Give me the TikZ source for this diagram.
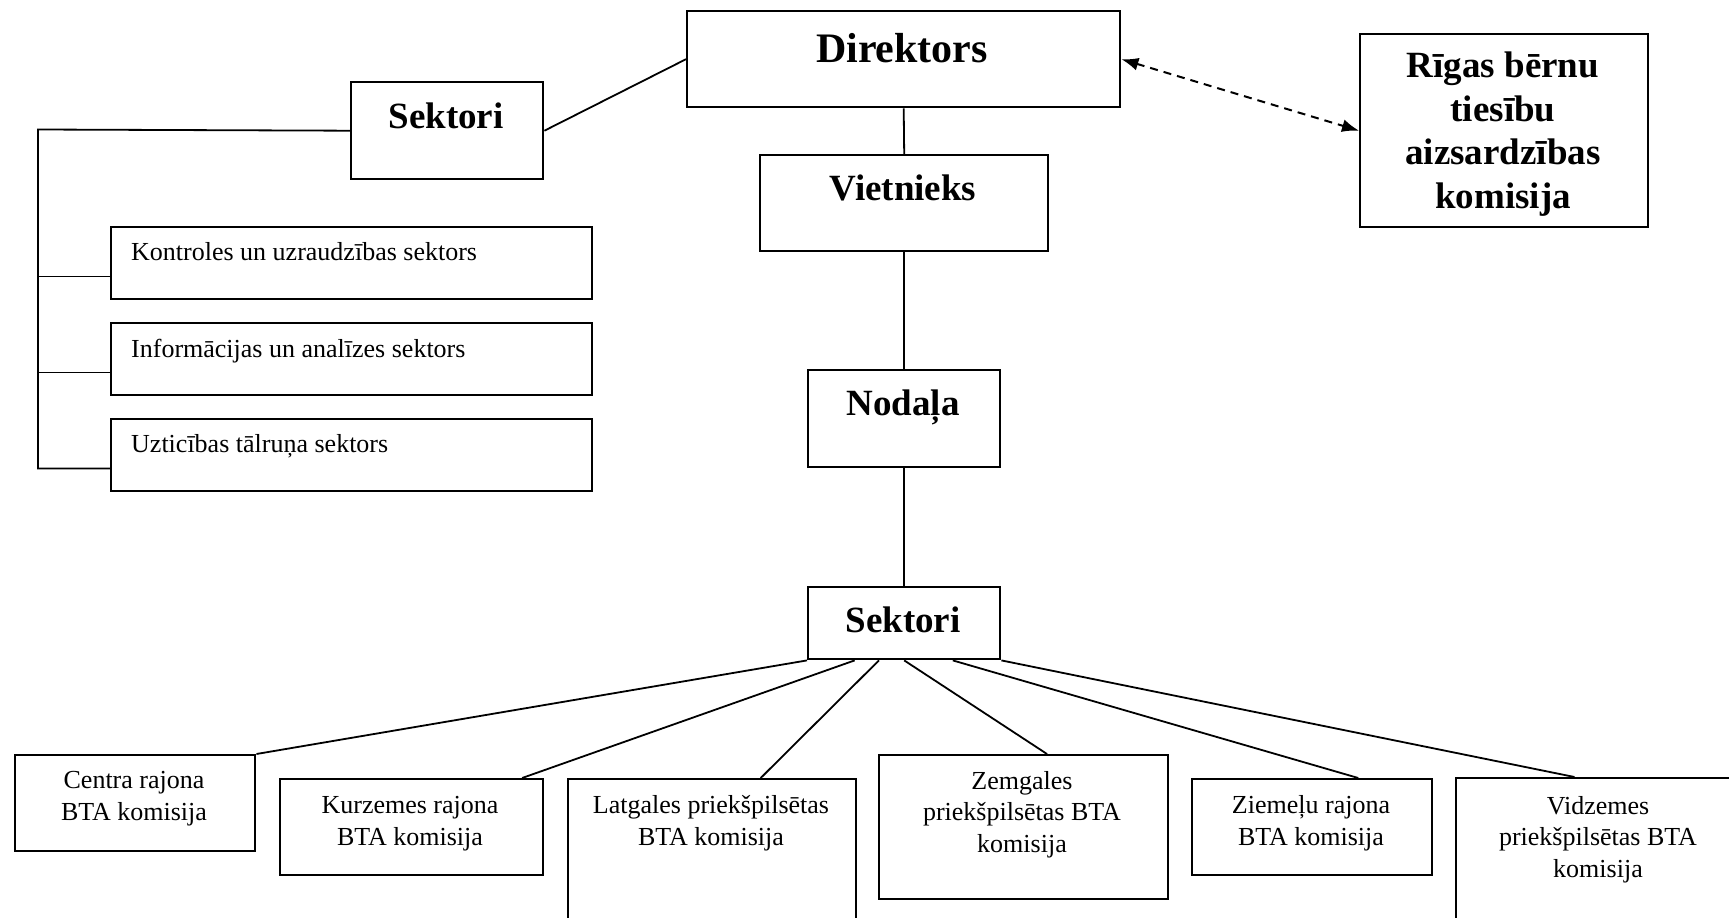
\documentclass[tikz,border=0pt]{standalone}
\usepackage{fontspec}
\setmainfont{Liberation Serif}
\usetikzlibrary{calc,arrows.meta}
\tikzset{
  box/.style={draw, line width=2.4pt, inner sep=0pt, anchor=north west},
  conn/.style={line width=1.8pt},
  dashconn/.style={line width=2pt, dash pattern=on 8pt off 6pt, {Latex[length=17pt,width=13pt]}-{Latex[length=17pt,width=13pt]}},
  ttl/.style={font=\fontsize{37}{43.5}\selectfont\bfseries, inner sep=0pt, anchor=base, align=center},
  sml/.style={font=\fontsize{26}{31.5}\selectfont, inner sep=0pt, anchor=base, align=center},
  lft/.style={font=\fontsize{26}{31.5}\selectfont, inner sep=0pt, anchor=base west}
}
\begin{document}
\begin{tikzpicture}[x=1pt,y=-1pt]
\useasboundingbox (0,0) rectangle (1729,918);
\fill[white] (0,0) rectangle (1729,918);
\clip (0,0) rectangle (1729,918);
% boxes
\node[box, minimum width=433pt, minimum height=96pt] (dir) at (686,10) {};
\node[box, minimum width=192pt, minimum height=97pt] (seku) at (350,81) {};
\node[box, minimum width=288pt, minimum height=96pt] (viet) at (759,154) {};
\node[box, minimum width=288pt, minimum height=193pt] (rigas) at (1359,33) {};
\node[box, minimum width=192pt, minimum height=97pt] (nod) at (807,369) {};
\node[box, minimum width=481pt, minimum height=72pt] (k1) at (110,226) {};
\node[box, minimum width=481pt, minimum height=72pt] (k2) at (110,322) {};
\node[box, minimum width=481pt, minimum height=72pt] (k3) at (110,418) {};
\node[box, minimum width=192pt, minimum height=72pt] (sekl) at (807,586) {};
\node[box, minimum width=240pt, minimum height=96pt] (centra) at (14,754) {};
\node[box, minimum width=263pt, minimum height=96pt] (kurz) at (279,778) {};
\node[box, minimum width=288pt, minimum height=170pt] (latg) at (567,778) {};
\node[box, minimum width=289pt, minimum height=144pt] (zemg) at (878,754) {};
\node[box, minimum width=240pt, minimum height=96pt] (ziem) at (1191,778) {};
\node[box, minimum width=300pt, minimum height=170pt] (vidz) at (1455,777) {};
% texts (multi-line nodes: base = last line)
\node[ttl, font=\fontsize{42}{48}\selectfont\bfseries] (tdir) at (902,62) {Direktors};
\node[ttl] (tseku) at (446,128) {Sektori};
\node[ttl] (tviet) at (903,200) {Vietnieks};
\node[ttl] (tnod) at (903,415) {Nodaļa};
\node[ttl] (tsekl) at (903,632) {Sektori};
\node[ttl] (trigas) at (1503,208) {Rīgas bērnu\\tiesību\\aizsardzības\\komisija};
\node[lft] (tk1) at (131,260) {Kontroles un uzraudzības sektors};
\node[lft] (tk2) at (131,357) {Informācijas un analīzes sektors};
\node[lft] (tk3) at (131,452) {Uzticības tālruņa sektors};
\node[sml] (tcentra) at (134,820) {Centra rajona\\BTA komisija};
\node[sml] (tkurz) at (410,845) {Kurzemes rajona\\BTA komisija};
\node[sml] (tlatg) at (711,845) {Latgales priekšpilsētas\\BTA komisija};
\node[sml] (tzemg) at (1022,852) {Zemgales\\priekšpilsētas BTA\\komisija};
\node[sml] (tziem) at (1311,845) {Ziemeļu rajona\\BTA komisija};
\node[sml] (tvidz) at (1598,877) {Vidzemes\\priekšpilsētas BTA\\komisija};
% connectors
\draw[conn] (dir.south) -- (viet.north);
\draw[conn] (viet.south) -- (nod.north);
\draw[conn] (nod.south) -- (sekl.north);
\draw[conn] (seku.east) -- (dir.west);
\draw[dashconn] (dir.east) -- (rigas.west);
\coordinate (bt) at (38,129.5);
\draw[conn] (seku.west) -- (bt) |- ([yshift=24pt]k3.south west);
\draw[conn] ([yshift=24pt]k1.south west) -- ([yshift=24pt]k1.south west -| bt);
\draw[conn] ([yshift=24pt]k2.south west) -- ([yshift=24pt]k2.south west -| bt);
\draw[conn] (sekl.south west) -- (centra.north east);
\draw[conn] ($(sekl.south west)!0.245!(sekl.south east)$) -- ($(kurz.north west)!0.916!(kurz.north east)$);
\draw[conn] ($(sekl.south west)!0.37!(sekl.south east)$) -- ($(latg.north west)!0.667!(latg.north east)$);
\draw[conn] (sekl.south) -- ($(zemg.north west)!0.58!(zemg.north east)$);
\draw[conn] ($(sekl.south west)!0.75!(sekl.south east)$) -- ($(ziem.north west)!0.69!(ziem.north east)$);
\draw[conn] (sekl.south east) -- ($(vidz.north west)!0.395!(vidz.north east)$);
\end{tikzpicture}
\end{document}
